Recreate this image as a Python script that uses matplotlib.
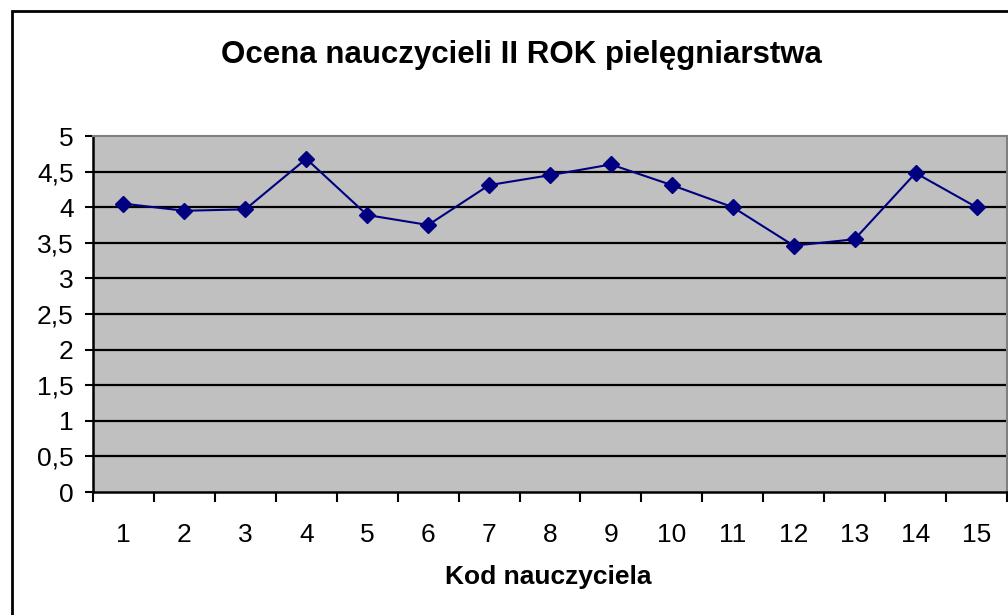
import matplotlib.pyplot as plt
from matplotlib.patches import Rectangle

plt.rcParams['font.family'] = ['Liberation Sans', 'DejaVu Sans']

# dane
kody = list(range(1, 16))
oceny = [4.05, 3.95, 3.97, 4.68, 3.89, 3.75, 4.31, 4.45, 4.60, 4.31, 4.00, 3.46, 3.55, 4.48, 4.00]
y_ticks = [0, 0.5, 1, 1.5, 2, 2.5, 3, 3.5, 4, 4.5, 5]
title = 'Ocena nauczycieli II ROK pielęgniarstwa'
xlabel = 'Kod nauczyciela'

fig = plt.figure(figsize=(10.08, 6.15), dpi=100)
ax = fig.add_axes([93 / 1008, 1 - 492 / 615, 914 / 1008, 356 / 615])
ax.set_facecolor('#c0c0c0')

# ramka wykresu
fig.patches.append(Rectangle((12 / 1008, -0.1), 1.2, 1 - 11 / 615 + 0.1,
                             transform=fig.transFigure, fill=False,
                             edgecolor='black', linewidth=2))

for v in y_ticks[1:-1]:
    ax.axhline(v, color='black', linewidth=1.6, zorder=1)

ax.plot(kody, oceny, color='#000080', linewidth=1.5, marker='D',
        markersize=8.5, zorder=3)

ax.set_xlim(0.5, 15.5)
ax.set_ylim(0, 5)
ax.set_yticks(y_ticks)
ax.set_yticklabels([('%g' % v).replace('.', ',') for v in y_ticks])
ax.set_xticks([k - 0.5 for k in kody] + [15.5])
ax.set_xticklabels([])
ax.set_xticks(kody, minor=True)
ax.set_xticklabels([str(k) for k in kody], minor=True)
ax.tick_params(axis='x', which='minor', length=0, pad=22, labelsize=19)
ax.tick_params(axis='x', which='major', length=7, width=1.5, direction='out')
ax.tick_params(axis='y', length=6, width=1.5, direction='out', labelsize=19, pad=8)

for s in ['left', 'bottom']:
    ax.spines[s].set_linewidth(1.8)
    ax.spines[s].set_color('black')
for s in ['top', 'right']:
    ax.spines[s].set_linewidth(1.5)
    ax.spines[s].set_color('#808080')

fig.text(0.5177, 1 - 55 / 615, title, ha='center', va='center',
         fontsize=22.5, fontweight='bold')
fig.text(548 / 1008, 1 - 577 / 615, xlabel, ha='center', va='center',
         fontsize=19, fontweight='bold')

fig.savefig('out.png', dpi=100)
